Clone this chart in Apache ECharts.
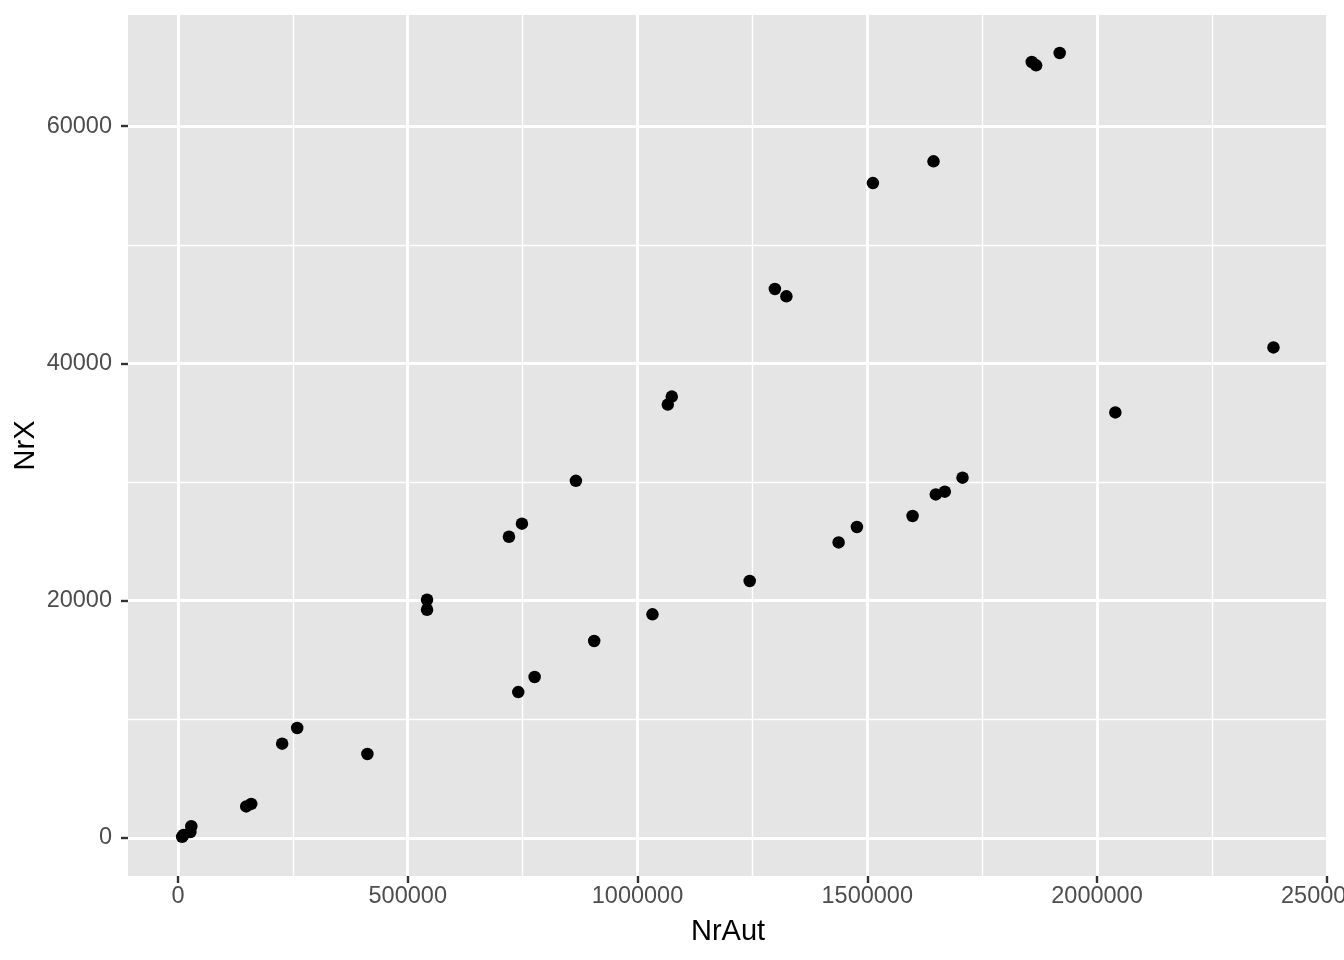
<!DOCTYPE html>
<html>
<head>
<meta charset="utf-8">
<script src="https://cdn.jsdelivr.net/npm/echarts@6/dist/echarts.min.js"></script>
<style>
html,body{margin:0;padding:0;background:#fff;}
#chart{width:1344px;height:960px;}
</style>
</head>
<body>
<div id="chart"></div>
<script>
// Data
const nrAut = [9000, 12000, 27000, 29000, 148500, 159400, 226700, 259400, 412200,
  542000, 542000, 720300, 748500, 740500, 776100, 865900, 905700, 1032600,
  1065900, 1074600, 1244200, 1299000, 1324000, 1512300, 1644200,
  1858000, 1867500, 1918800, 1437700, 1477500, 1598600, 1649200, 1668800, 1707300,
  2039900, 2384000];
const nrX = [100, 250, 500, 1000, 2660, 2870, 7950, 9270, 7080,
  20080, 19240, 25390, 26490, 12300, 13570, 30100, 16600, 18850,
  36530, 37200, 21660, 46270, 45650, 55200, 57030,
  65400, 65120, 66160, 24910, 26210, 27140, 28960, 29190, 30370,
  35870, 41350];
const xMajor = [0, 500000, 1000000, 1500000, 2000000, 2500000];
const xMinor = [250000, 750000, 1250000, 1750000, 2250000];
const yMajor = [0, 20000, 40000, 60000];
const yMinor = [10000, 30000, 50000];
const xTitle = 'NrAut';
const yTitle = 'NrX';

const points = nrAut.map((v, i) => [v, nrX[i]]);
const fontFam = '"Liberation Sans", Arial, Helvetica, sans-serif';

const chart = echarts.init(document.getElementById('chart'));
chart.setOption({
  animation: false,
  grid: {
    left: 128, top: 15, width: 1200, height: 861,
    outerBoundsMode: 'none', containLabel: false,
    show: true, backgroundColor: '#E5E5E5', borderWidth: 0
  },
  xAxis: {
    type: 'value', min: -108800, max: 2502700,
    name: xTitle, nameLocation: 'middle', nameGap: 41, nameMoveOverlap: false,
    nameTextStyle: { color: '#000', fontSize: 29, fontFamily: fontFam },
    axisLine: { show: false, onZero: false },
    axisTick: { show: true, length: 7, customValues: xMajor, lineStyle: { color: '#333333', width: 2.4 } },
    axisLabel: { customValues: xMajor, margin: 9, color: '#4D4D4D', fontSize: 23.5, fontFamily: fontFam,
      formatter: v => String(v), hideOverlap: false, showMinLabel: true, showMaxLabel: true },
    splitLine: { show: true, lineStyle: { color: '#FFFFFF', width: 2.8 } }
  },
  yAxis: {
    type: 'value', min: -3203, max: 69364,
    name: yTitle, nameLocation: 'middle', nameGap: 88, nameMoveOverlap: false,
    nameTextStyle: { color: '#000', fontSize: 29, fontFamily: fontFam },
    axisLine: { show: false, onZero: false },
    axisTick: { show: true, length: 7, customValues: yMajor, lineStyle: { color: '#333333', width: 2.4 } },
    axisLabel: { customValues: yMajor, margin: 16, color: '#4D4D4D', fontSize: 23.5, fontFamily: fontFam,
      formatter: v => String(v), showMinLabel: true, showMaxLabel: true },
    splitLine: { show: true, lineStyle: { color: '#FFFFFF', width: 2.8 } }
  },
  series: [
    {
      type: 'scatter', data: [], z: 1, silent: true,
      markLine: {
        silent: true, symbol: 'none', animation: false,
        label: { show: false },
        lineStyle: { color: '#FFFFFF', width: 1.4, type: 'solid' },
        data: xMinor.map(v => ({ xAxis: v })).concat(yMinor.map(v => ({ yAxis: v })))
      }
    },
    {
      type: 'scatter', data: points, z: 5,
      symbol: 'circle', symbolSize: 12.5,
      itemStyle: { color: '#000000', opacity: 1 }
    }
  ]
});
</script>
</body>
</html>
